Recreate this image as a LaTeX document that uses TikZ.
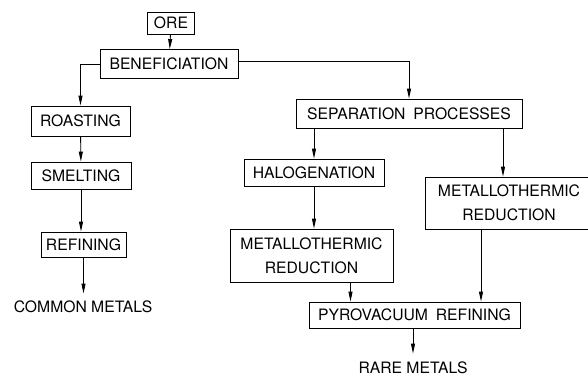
\documentclass[tikz,border=0pt]{standalone}
\usepackage{fontspec}
\setmainfont{TeX Gyre Heros}
\usetikzlibrary{calc, positioning, arrows.meta}

\begin{document}
\begin{tikzpicture}[
		x=1pt, y=-1pt,
		font=\fontsize{15.7}{24}\selectfont,
		line width=0.9pt,
		stepbox/.style={draw=black, line width=0.9pt, inner sep=0pt, align=center},
		label/.style={inner sep=0pt},
		arrow/.style={-{Triangle[length=10pt, width=4pt]}, line width=0.9pt},
		link/.style={line width=0.9pt}
		]
		\useasboundingbox (0,0) rectangle (588,376);
		
		% 1. Common metals branch
		\node[stepbox, minimum width=47pt, minimum height=22pt] (ore) at (171,23) {ORE};
		\node[stepbox, minimum width=138pt, minimum height=29pt] (benef) at (169,64) {BENEFICIATION};
		\node[stepbox, minimum width=99pt, minimum height=30pt] (roast) at (80.5,121) {ROASTING};
		\node[stepbox, minimum width=100pt, minimum height=27pt] (smelt) at (81,175.5) {SMELTING};
		\node[stepbox, minimum width=85pt, minimum height=25pt] (refine) at (83.5,244.5) {REFINING};
		\node[label] (common) at (83,307) {COMMON METALS};
		
		% 2. Rare metals branch
		\node[stepbox, minimum width=226pt, minimum height=29pt] (sep) at (409,113.5) {SEPARATION\hspace{0.5em}PROCESSES};
		\node[stepbox, minimum width=140pt, minimum height=27pt] (halo) at (314,172.5) {HALOGENATION};
		\node[stepbox, minimum width=163pt, minimum height=53pt] (metL) at (311.5,255.5) {METALLOTHERMIC\\REDUCTION};
		\node[stepbox, minimum width=168pt, minimum height=52pt] (metR) at (509,203) {METALLOTHERMIC\\REDUCTION};
		\node[stepbox, minimum width=211pt, minimum height=26pt] (pyro) at (414.5,315) {PYROVACUUM\hspace{0.5em}REFINING};
		\node[label] (rare) at (413,368) {RARE METALS};
		
		% Connections
		\draw[arrow] (ore) -- (benef);
		\draw[arrow] (benef.west) -| (roast.north);
		\draw[arrow] ([yshift=3pt]benef.east) -| (sep.north);
		\draw[arrow] (roast) -- (smelt);
		\draw[arrow] (smelt.south) -- (smelt.south |- refine.north);
		\draw[arrow, shorten >=7pt] (refine.south) -- (refine.south |- common.north);
		
		\draw[arrow] (halo.north |- sep.south) -- (halo.north);
		\draw[arrow] ([xshift=-6pt]metR.north |- sep.south) -- ([xshift=-6pt]metR.north);
		\draw[arrow] (halo.south) -- (halo.south |- metL.north);
		\draw[arrow] ([xshift=39pt]metL.south) -- ([xshift=39pt]metL.south |- pyro.north);
		\draw[arrow] ([xshift=-28pt]metR.south) -- ([xshift=-28pt]metR.south |- pyro.north);
		\draw[arrow, shorten >=8pt] ([xshift=-1.5pt]pyro.south) -- ([xshift=-1.5pt]pyro.south |- rare.north);
		
	\end{tikzpicture}
\end{document}
